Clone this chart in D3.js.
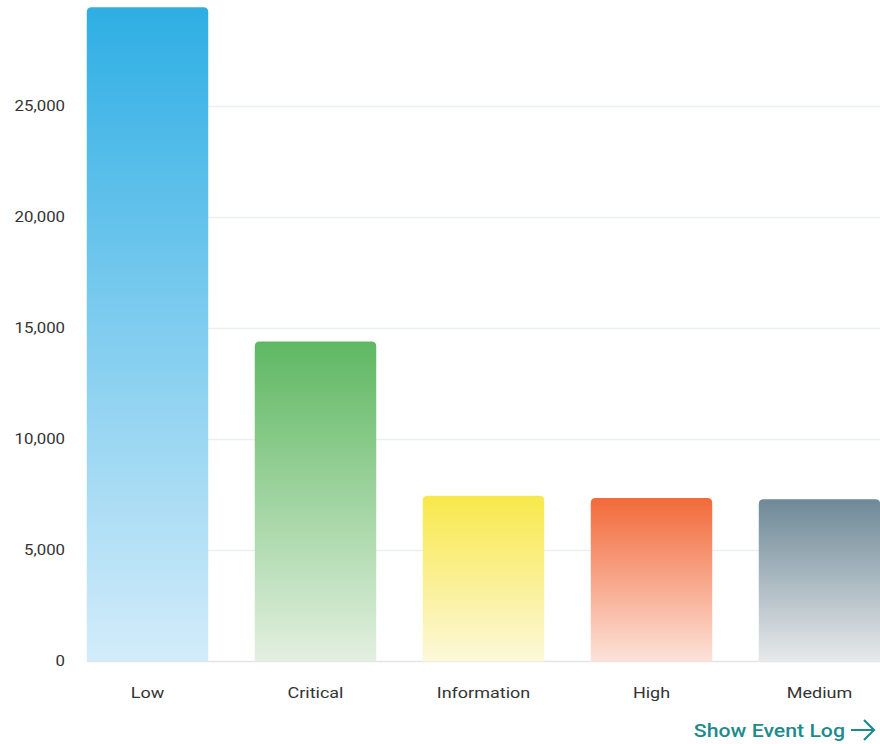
<!DOCTYPE html>
<html>
<head>
<meta charset="utf-8">
<script src="https://cdn.jsdelivr.net/npm/d3@7"></script>
<style>
  html, body { margin: 0; padding: 0; background: #fff; overflow: hidden; }
  svg { display: block; font-family: Roboto, "Noto Sans", sans-serif; }
</style>
</head>
<body>
<svg id="chart" width="880" height="744"></svg>
<script>
// Event counts by severity
const categories = ["Low", "Critical", "Information", "High", "Medium"];
const counts = [29470, 14410, 7470, 7360, 7310];
const yTicks = [0, 5000, 10000, 15000, 20000, 25000];
const topColors = ["#2eaee4", "#5eb862", "#f8e84a", "#f26a3a", "#6e8997"];
const bottomColors = ["#d3ecfa", "#e3f0e0", "#fcf8da", "#fde2d9", "#e7e9eb"];

const svg = d3.select("#chart");
const W = 880;
const textStretch = 1.2;

const x = d3.scaleBand()
  .domain(categories)
  .range([63.5, 903.5])
  .paddingInner(0.277)
  .paddingOuter(0.1385);

const y = d3.scaleLinear()
  .domain([0, 25000])
  .range([661.5, 106.5]);

// gradients, one per bar
const defs = svg.append("defs");
categories.forEach((c, i) => {
  const g = defs.append("linearGradient")
    .attr("id", "grad" + i)
    .attr("x1", 0).attr("y1", 0).attr("x2", 0).attr("y2", 1);
  g.append("stop").attr("offset", "0%").attr("stop-color", topColors[i]);
  g.append("stop").attr("offset", "100%").attr("stop-color", bottomColors[i]);
});

// horizontal gridlines
svg.append("g")
  .selectAll("line")
  .data(yTicks)
  .join("line")
  .attr("x1", 87).attr("x2", W)
  .attr("y1", d => y(d)).attr("y2", d => y(d))
  .attr("stroke", d => d === 0 ? "#e4e4e6" : "#eceff0")
  .attr("stroke-width", 1.5);

// bars with rounded top corners
function topRounded(x0, y0, w, h, r) {
  r = Math.min(r, h, w / 2);
  return `M${x0},${y0 + h}V${y0 + r}Q${x0},${y0} ${x0 + r},${y0}` +
         `H${x0 + w - r}Q${x0 + w},${y0} ${x0 + w},${y0 + r}V${y0 + h}Z`;
}

svg.append("g")
  .selectAll("path")
  .data(categories)
  .join("path")
  .attr("d", (c, i) => topRounded(x(c), y(counts[i]), x.bandwidth(), y(0) - y(counts[i]), 5))
  .attr("fill", (c, i) => `url(#grad${i})`);

// y axis labels
const fmt = d3.format(",");
svg.append("g")
  .selectAll("text")
  .data(yTicks)
  .join("text")
  .attr("transform", d => `translate(65,${y(d)}) scale(${textStretch},1)`)
  .attr("dy", "0.35em")
  .attr("text-anchor", "end")
  .attr("font-size", 14)
  .attr("fill", "#333")
  .text(d => fmt(d));

// x axis labels
svg.append("g")
  .selectAll("text")
  .data(categories)
  .join("text")
  .attr("transform", c => `translate(${x(c) + x.bandwidth() / 2},693) scale(${textStretch},1)`)
  .attr("dy", "0.35em")
  .attr("text-anchor", "middle")
  .attr("font-size", 15)
  .attr("fill", "#333")
  .text(c => c);

// footer link
const link = svg.append("g").attr("fill", "#1e8b8b");
link.append("text")
  .attr("transform", "translate(845,730) scale(1.12,1)")
  .attr("dy", "0.35em")
  .attr("text-anchor", "end")
  .attr("font-size", 19)
  .attr("font-weight", 500)
  .text("Show Event Log");
link.append("path")
  .attr("d", "M851,730H874M864,720L874,730L864,740")
  .attr("fill", "none")
  .attr("stroke", "#1e8b8b")
  .attr("stroke-width", 2.2);
</script>
</body>
</html>
